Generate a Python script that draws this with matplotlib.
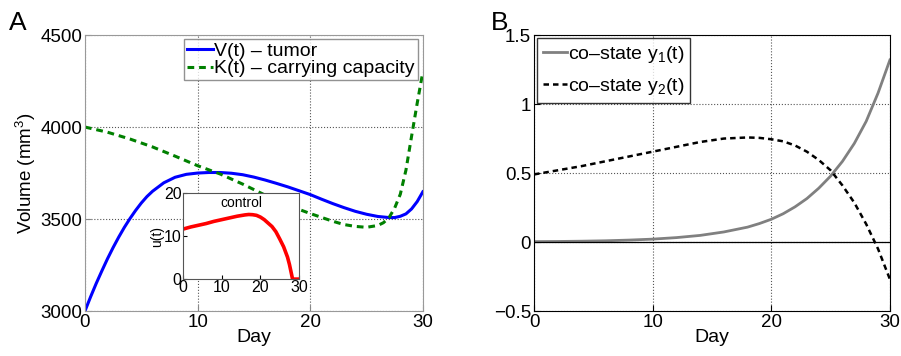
import numpy as np
import matplotlib
matplotlib.use("Agg")
import matplotlib.pyplot as plt

plt.rcParams['font.family'] = ['Liberation Sans', 'DejaVu Sans']
plt.rcParams['mathtext.fontset'] = 'custom'
plt.rcParams['mathtext.rm'] = 'Liberation Sans'

# --- panel A: tumor volume and carrying capacity ---
t_v = [0, 0.5, 1, 1.5, 2, 2.5, 3, 3.5, 4, 4.5, 5, 5.5, 6, 7, 8, 9, 10, 11, 12, 13, 14, 15,
       16, 17, 18, 19, 20, 21, 22, 23, 24, 25, 26, 27, 27.5, 28, 28.5, 29, 29.5, 30]
tumor = [3000, 3077, 3150, 3218, 3284, 3345, 3402, 3455, 3503, 3547, 3587, 3622, 3651,
         3697, 3727, 3743, 3750, 3753, 3753, 3749, 3741, 3728, 3712, 3694, 3675, 3654,
         3633, 3608, 3584, 3562, 3542, 3526, 3514, 3508, 3508, 3515, 3528, 3555, 3595, 3648]
t_k = [0, 2, 4, 6, 8, 10, 12, 14, 15, 16, 18, 20, 22, 23, 24, 25, 26, 26.5, 27,
       27.5, 28, 28.5, 29, 29.5, 30]
capacity = [4000, 3972, 3935, 3892, 3842, 3790, 3745, 3690, 3660, 3630, 3575, 3530, 3488,
            3470, 3460, 3455, 3465, 3480, 3508, 3560, 3635, 3766, 3950, 4130, 4300]

# inset: control u(t)
t_u = [0, 2, 4, 6, 8, 10, 12, 14, 16, 17, 18, 19, 20, 21, 22, 23, 24, 25, 26, 27,
       27.5, 28, 28.3, 29, 30]
control = [11.6, 12.1, 12.5, 12.9, 13.4, 13.8, 14.2, 14.6, 14.9, 15.0, 14.95, 14.8, 14.4,
           13.8, 13.0, 12.2, 11.0, 9.3, 7.5, 5.1, 3.4, 1.3, 0, 0, 0]

# --- panel B: co-states ---
t_y = [0, 2, 4, 6, 8, 10, 12, 14, 16, 18, 19, 20, 21, 22, 23, 24, 25, 26, 27, 28, 29, 30]
costate1 = [0.003, 0.004, 0.006, 0.009, 0.014, 0.021, 0.032, 0.048, 0.073, 0.108, 0.134,
            0.165, 0.205, 0.255, 0.315, 0.39, 0.478, 0.585, 0.715, 0.875, 1.08, 1.32]
costate2 = [0.49, 0.52, 0.55, 0.585, 0.62, 0.655, 0.69, 0.725, 0.75, 0.758, 0.755, 0.745,
            0.73, 0.70, 0.655, 0.595, 0.52, 0.41, 0.285, 0.13, -0.05, -0.27]

fig = plt.figure(figsize=(9.01, 3.56), dpi=100)

ax1 = fig.add_axes([0.0943, 0.1264, 0.375, 0.775])
ax1.plot(t_v, tumor, color='#0000ff', lw=2.2, label='V(t) \u2013 tumor')
ax1.plot(t_k, capacity, color='#008000', lw=2.2, ls=(0, (2.2, 1.6)),
         label='K(t) \u2013 carrying capacity')
ax1.set_xlim(0, 30)
ax1.set_ylim(3000, 4500)
ax1.set_xticks([0, 10, 20, 30])
ax1.set_yticks([3000, 3500, 4000, 4500])
ax1.grid(True, ls=':', color='#555555', lw=0.8)
ax1.tick_params(direction='in', labelsize=13.5, length=4, color='#888888', pad=2)
for s in ax1.spines.values():
    s.set_color('#999999')
ax1.set_xlabel('Day', fontsize=14, labelpad=-1)
ax1.set_ylabel('Volume (mm$^3$)', fontsize=13.5, labelpad=2)
leg1 = ax1.legend(loc='upper right', fontsize=14, handlelength=1.35, handletextpad=0.05,
                  borderpad=0.15, labelspacing=0.0, fancybox=False,
                  bbox_to_anchor=(0.985, 0.985), borderaxespad=0.0)
leg1.get_frame().set_edgecolor('#777777')
leg1.get_frame().set_linewidth(1.0)
fig.text(0.010, 0.915, 'A', fontsize=19)

ax_in = fig.add_axes([0.203, 0.216, 0.129, 0.242])
ax_in.plot(t_u, control, color='#ff0000', lw=2.6)
ax_in.set_xlim(0, 30)
ax_in.set_ylim(0, 20)
ax_in.set_xticks([0, 10, 20, 30])
ax_in.set_yticks([0, 10, 20])
ax_in.tick_params(direction='in', labelsize=11.5, length=3, pad=1)
ax_in.set_ylabel('u(t)', fontsize=10, labelpad=0)
ax_in.text(0.5, 0.96, 'control', transform=ax_in.transAxes, ha='center', va='top',
           fontsize=10)
for s in ax_in.spines.values():
    s.set_color('#555555')

ax2 = fig.add_axes([0.5927, 0.1264, 0.395, 0.775])
ax2.plot(t_y, costate1, color='#808080', lw=2.0, label='co\u2013state y$_1$(t)')
ax2.plot(t_y, costate2, color='black', lw=1.8, ls=(0, (2.2, 1.6)),
         label='co\u2013state y$_2$(t)')
ax2.axhline(0, color='black', lw=0.9)
ax2.set_xlim(0, 30)
ax2.set_ylim(-0.5, 1.5)
ax2.set_xticks([0, 10, 20, 30])
ax2.set_yticks([-0.5, 0, 0.5, 1, 1.5])
ax2.set_yticklabels(['\u22120.5', '0', '0.5', '1', '1.5'])
ax2.grid(True, ls=':', color='#555555', lw=0.8)
ax2.tick_params(direction='in', labelsize=13.5, length=4, pad=2)
ax2.set_xlabel('Day', fontsize=14, labelpad=-1)
leg2 = ax2.legend(loc='upper left', fontsize=14, handlelength=1.25, handletextpad=0.05,
                  borderpad=0.3, labelspacing=0.55, fancybox=False,
                  bbox_to_anchor=(0.008, 0.988), borderaxespad=0.0)
leg2.get_frame().set_edgecolor('black')
leg2.get_frame().set_linewidth(1.0)
fig.text(0.545, 0.915, 'B', fontsize=19)

fig.savefig('out.png', dpi=100)
